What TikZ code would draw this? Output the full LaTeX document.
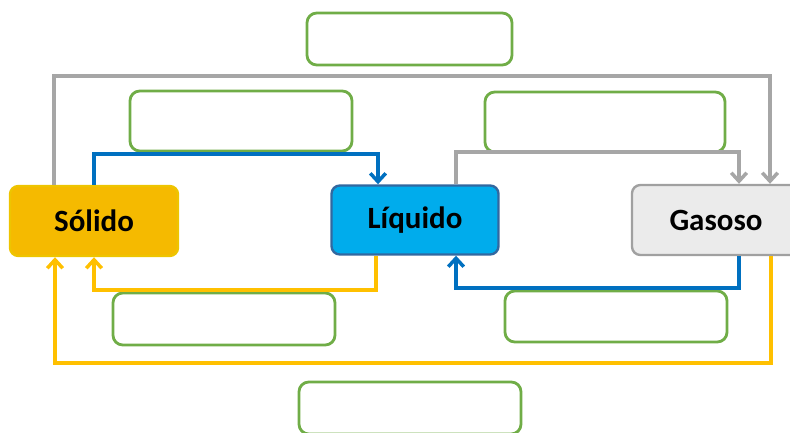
\documentclass[tikz,border=0pt]{standalone}
\usepackage{fontspec}
\setmainfont{Carlito}
\usetikzlibrary{arrows.meta}
\definecolor{amarillo}{RGB}{245,186,0}
\definecolor{amarilloborde}{RGB}{238,196,0}
\definecolor{celeste}{RGB}{0,172,236}
\definecolor{azulborde}{RGB}{50,104,160}
\definecolor{grisclaro}{RGB}{235,235,235}
\definecolor{grisborde}{RGB}{160,160,160}
\definecolor{gris}{RGB}{166,166,166}
\definecolor{azul}{RGB}{0,112,192}
\definecolor{oro}{RGB}{255,192,0}
\definecolor{verde}{RGB}{112,173,71}
\tikzset{
  estado/.style={draw,line width=1.7pt,rounded corners=6pt,minimum width=4.2cm,minimum height=1.75cm,font=\fontsize{22}{26}\selectfont\bfseries},
  caja/.style={draw=verde,line width=2pt,rounded corners=7pt,inner sep=0pt},
  flecha/.style={line width=2.5pt,-{Straight Barb[length=6pt,width=11pt]}},
}
\begin{document}
\begin{tikzpicture}[x=0.025cm,y=-0.025cm]
\useasboundingbox (0,0) rectangle (790,433);
\node[estado,fill=amarillo,draw=amarilloborde] (solido) at (94,221) {Sólido};
\node[estado,fill=celeste,draw=azulborde,minimum width=4.175cm,minimum height=1.725cm] (liquido) at (415,220) {Líquido};
\node[estado,fill=grisclaro,draw=grisborde] (gaseoso) at (716,220) {Gasoso};
% cajas vacias
\foreach \n/\x/\y/\w/\h in {1/409.5/39/5.125/1.3, 2/241/121/5.55/1.5, 3/605/122/6.0/1.5,
  4/224/319/5.55/1.3, 5/616/316.5/5.55/1.275, 6/410/408/5.55/1.3}
  \node[caja,minimum width=\w cm,minimum height=\h cm] (caja\n) at (\x,\y) {};
% esquinas
\coordinate (a1) at (54,76);   \coordinate (a2) at (770,76);
\coordinate (b1) at (94,154);  \coordinate (b2) at (378,154);
\coordinate (c1) at (456,152); \coordinate (c2) at (739,152);
\coordinate (d1) at (376,290); \coordinate (d2) at (94,290);
\coordinate (e1) at (739,288); \coordinate (e2) at (456,288);
\coordinate (f1) at (771,363); \coordinate (f2) at (55,363);
\draw[flecha,gris] (solido.north -| a1) |- (a2) -- (gaseoso.north -| a2);
\draw[flecha,azul] (solido.north -| b1) |- (b2) -- (liquido.north -| b2);
\draw[flecha,gris] (liquido.north -| c1) |- (c2) -- (gaseoso.north -| c2);
\draw[flecha,oro] (liquido.south -| d1) |- (d2) -- (solido.south -| d2);
\draw[flecha,azul] (gaseoso.south -| e1) |- (e2) -- (liquido.south -| e2);
\draw[flecha,oro] (gaseoso.south -| f1) |- (f2) -- (solido.south -| f2);
\end{tikzpicture}
\end{document}
